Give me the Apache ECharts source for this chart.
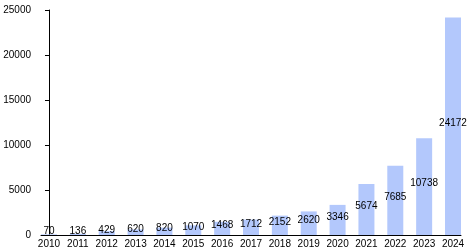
<!DOCTYPE html>
<html>
<head>
<meta charset="utf-8">
<script src="https://cdn.jsdelivr.net/npm/echarts@6/dist/echarts.min.js"></script>
<style>html,body{margin:0;padding:0;background:#fff}#c{width:470px;height:250px}</style>
</head>
<body>
<div id="c"></div>
<script>
var years = ['2010','2011','2012','2013','2014','2015','2016','2017','2018','2019','2020','2021','2022','2023','2024'];
var values = [70,136,429,620,820,1070,1468,1712,2152,2620,3346,5674,7685,10738,24172];
var yTicks = [0,5000,10000,15000,20000,25000];

var idx = years.map(function(_, i){ return i; });
var chart = echarts.init(document.getElementById('c'), null, {renderer:'canvas'});
var font = '"Liberation Sans", Arial, Helvetica, sans-serif';
chart.setOption({
  animation: false,
  backgroundColor: '#fff',
  grid: {left: 41, right: 9, top: 10, bottom: 15, containLabel: false, outerBoundsMode: 'none'},
  xAxis: {
    type: 'value',
    min: -0.277, max: 14.277,
    axisLine: {show: true, lineStyle: {color: '#000', width: 1}},
    axisTick: {show: false},
    splitLine: {show: false},
    axisLabel: {
      customValues: idx,
      color: '#000', fontSize: 10, fontFamily: font, margin: 4,
      formatter: function(v){ return years[Math.round(v)] || ''; }
    }
  },
  yAxis: {
    type: 'value', min: yTicks[0], max: yTicks[yTicks.length-1], interval: 5000,
    axisLine: {show: true, lineStyle: {color: '#000', width: 1}},
    axisTick: {show: true, length: 4, lineStyle: {color: '#000'}},
    splitLine: {show: false},
    axisLabel: {color: '#000', fontSize: 10, fontFamily: font, margin: 10,
      formatter: function(v){ return String(v); }}
  },
  series: [{
    type: 'bar',
    barWidth: 16,
    data: idx.map(function(i){ return [i, values[i]]; }),
    itemStyle: {color: '#b3c8fc'},
    label: {
      show: true, position: 'inside', offset: [0, -3],
      color: '#000', fontSize: 10, fontFamily: font,
      formatter: function(p){ return String(values[p.dataIndex]); }
    }
  }]
});
</script>
</body>
</html>
